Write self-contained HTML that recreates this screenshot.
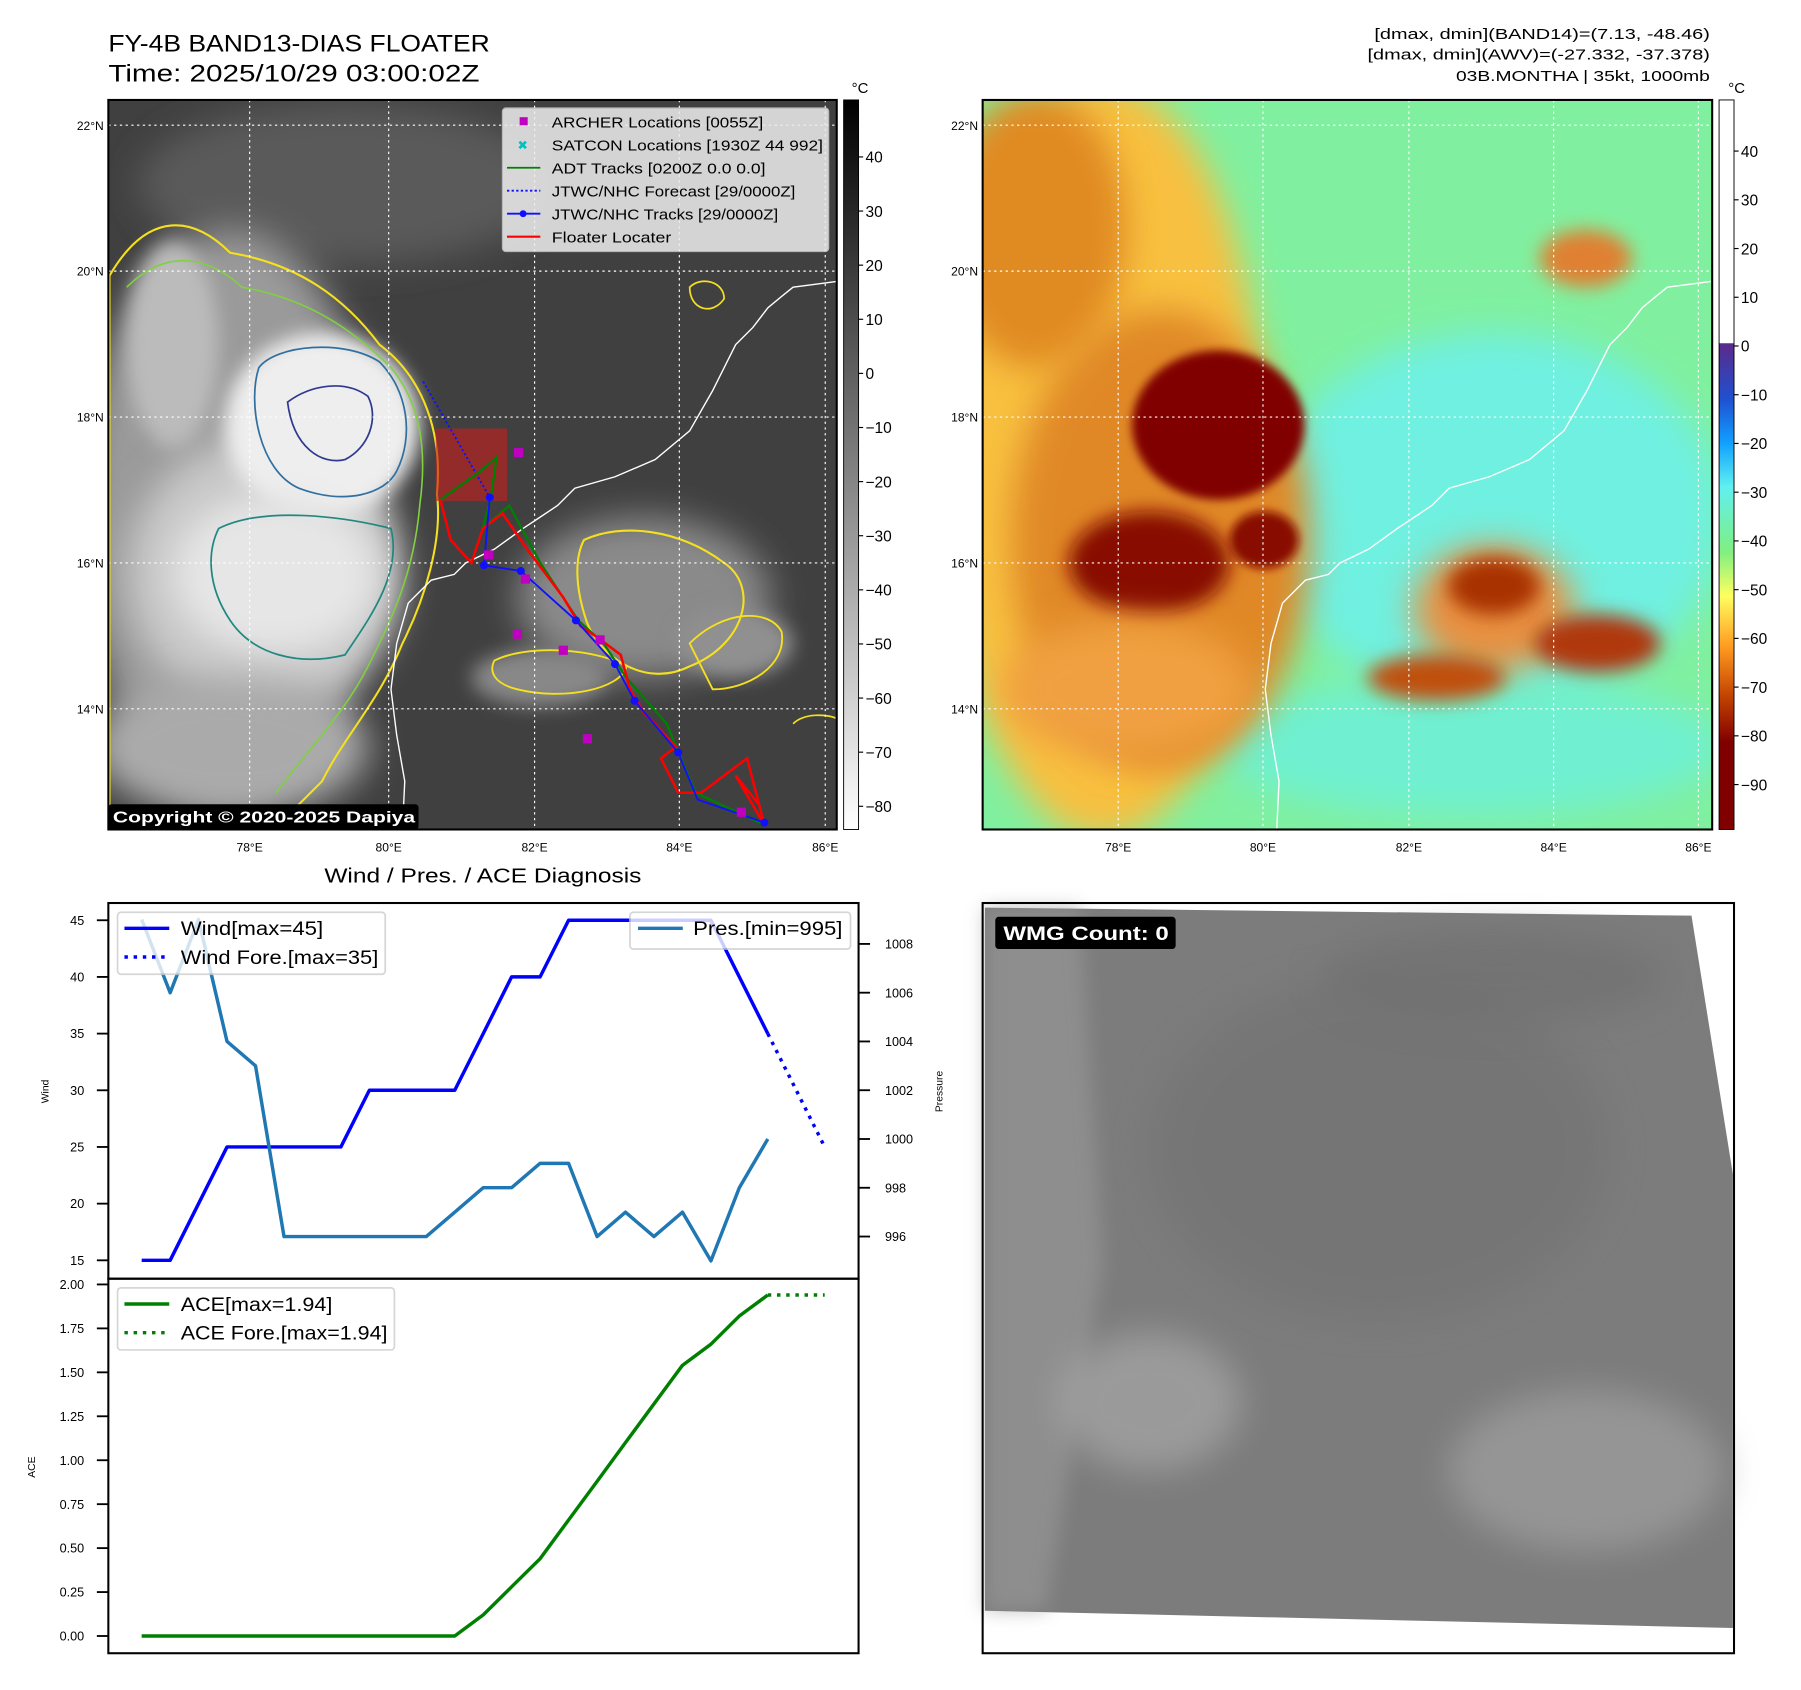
<!DOCTYPE html>
<html><head><meta charset="utf-8"><style>
html,body{margin:0;padding:0;background:#fff;}
svg{display:block;font-family:"Liberation Sans","DejaVu Sans",sans-serif;}
</style></head><body>
<svg id="root" width="1801" height="1690" viewBox="0 0 1567 1471" xmlns="http://www.w3.org/2000/svg">
<defs>
  <filter id="b8" x="-50%" y="-50%" width="200%" height="200%"><feGaussianBlur stdDeviation="8"/></filter>
  <filter id="b15" x="-50%" y="-50%" width="200%" height="200%"><feGaussianBlur stdDeviation="15"/></filter>
  <filter id="b4" x="-50%" y="-50%" width="200%" height="200%"><feGaussianBlur stdDeviation="4"/></filter>
  <clipPath id="c1"><rect x="94" y="87" width="634" height="635"/></clipPath>
  <clipPath id="c2"><rect x="855" y="87" width="635" height="635"/></clipPath>
  <linearGradient id="gcb1" x1="0" y1="0" x2="0" y2="1"><stop offset="0" stop-color="#000"/><stop offset="1" stop-color="#fff"/></linearGradient>
  <linearGradient id="gcb2" x1="0" y1="0" x2="0" y2="1">
    <stop offset="0" stop-color="#fff"/><stop offset="0.333" stop-color="#fff"/>
    <stop offset="0.334" stop-color="#5a2a8a"/><stop offset="0.41" stop-color="#2050d0"/>
    <stop offset="0.47" stop-color="#10a0ff"/><stop offset="0.53" stop-color="#60f0f0"/>
    <stop offset="0.62" stop-color="#80f080"/><stop offset="0.68" stop-color="#ffff60"/>
    <stop offset="0.75" stop-color="#ff9a20"/><stop offset="0.82" stop-color="#c04000"/>
    <stop offset="0.88" stop-color="#800000"/><stop offset="1" stop-color="#800000"/>
  </linearGradient>
</defs>

<!-- Titles -->
<text x="94" y="45" font-size="21" textLength="332" lengthAdjust="spacingAndGlyphs">FY-4B BAND13-DIAS FLOATER</text>
<text x="94" y="71" font-size="21" textLength="323" lengthAdjust="spacingAndGlyphs">Time: 2025/10/29 03:00:02Z</text>
<g font-size="13" text-anchor="end">
<text x="1488" y="34" textLength="292" lengthAdjust="spacingAndGlyphs">[dmax, dmin](BAND14)=(7.13, -48.46)</text>
<text x="1488" y="52" textLength="298" lengthAdjust="spacingAndGlyphs">[dmax, dmin](AWV)=(-27.332, -37.378)</text>
<text x="1488" y="70.5" textLength="221" lengthAdjust="spacingAndGlyphs">03B.MONTHA | 35kt, 1000mb</text>
</g>

<!-- MAP 1 -->
<g clip-path="url(#c1)">
  <rect x="94" y="87" width="634" height="635" fill="#404040"/>
  <ellipse cx="300" cy="160" rx="180" ry="70" fill="#5a5a5a" filter="url(#b15)"/>
  <ellipse cx="560" cy="520" rx="110" ry="70" fill="#8a8a8a" filter="url(#b15)"/>
  <ellipse cx="640" cy="560" rx="50" ry="30" fill="#909090" filter="url(#b8)"/>
  <ellipse cx="470" cy="590" rx="60" ry="25" fill="#888" filter="url(#b8)"/>
  <ellipse cx="200" cy="450" rx="130" ry="250" fill="#9a9a9a" filter="url(#b15)"/>
  <ellipse cx="230" cy="500" rx="120" ry="120" fill="#c8c8c8" filter="url(#b15)"/>
  <ellipse cx="280" cy="370" rx="85" ry="80" fill="#eee" filter="url(#b8)"/>
  <ellipse cx="240" cy="500" rx="90" ry="70" fill="#e6e6e6" filter="url(#b15)"/>
  <ellipse cx="200" cy="650" rx="120" ry="60" fill="#aaa" filter="url(#b15)"/>
  <ellipse cx="150" cy="300" rx="40" ry="90" fill="#bbb" filter="url(#b8)"/>
  <path d="M95,240 C130,180 170,190 200,220 C260,230 300,260 330,300 C370,330 385,380 380,430 C385,470 370,520 350,560 C330,610 300,640 280,680 L240,720 L95,720 Z" fill="none" stroke="#f5e020" stroke-width="1.8"/>
  <path d="M110,250 C150,210 190,230 210,250 C270,260 310,290 340,320 C365,350 372,390 365,440 C360,500 340,540 320,580 C300,620 270,650 240,690" fill="none" stroke="#80d040" stroke-width="1.4"/>
  <path d="M225,320 C240,300 300,295 330,315 C355,340 360,380 345,410 C335,430 300,440 260,425 C225,410 215,350 225,320 Z" fill="none" stroke="#3070a0" stroke-width="1.5"/>
  <path d="M190,460 C230,440 300,450 340,460 C350,500 320,540 300,570 C260,580 220,570 200,540 C180,510 180,480 190,460 Z" fill="none" stroke="#208880" stroke-width="1.5"/>
  <path d="M250,350 C270,335 300,330 320,345 C330,365 320,390 300,400 C280,405 255,390 250,350 Z" fill="none" stroke="#303890" stroke-width="1.5"/>
  <path d="M508,470 C540,455 590,460 630,490 C660,510 650,560 600,580 C560,600 520,570 510,540 C500,510 500,485 508,470 Z" fill="none" stroke="#f5e020" stroke-width="1.8"/>
  <path d="M600,560 C630,530 670,530 680,550 C685,580 650,600 620,600 Z" fill="none" stroke="#f5e020" stroke-width="1.6"/>
  <path d="M430,575 C460,560 520,565 545,580 C540,600 490,610 450,600 C430,595 425,585 430,575 Z" fill="none" stroke="#f5e020" stroke-width="1.6"/>
  <path d="M600,250 C610,240 630,245 630,260 C620,275 600,270 600,250 Z" fill="none" stroke="#f5e020" stroke-width="1.5"/>
  <path d="M690,630 C700,620 720,622 727,625" fill="none" stroke="#f5e020" stroke-width="1.5"/>
  <g stroke="#fff" stroke-width="1" stroke-dasharray="2,3">
    <line x1="217" y1="87" x2="217" y2="722"/><line x1="338" y1="87" x2="338" y2="722"/><line x1="465" y1="87" x2="465" y2="722"/><line x1="591" y1="87" x2="591" y2="722"/><line x1="718" y1="87" x2="718" y2="722"/>
    <line x1="94" y1="109" x2="728" y2="109"/><line x1="94" y1="236" x2="728" y2="236"/><line x1="94" y1="363" x2="728" y2="363"/><line x1="94" y1="490" x2="728" y2="490"/><line x1="94" y1="617" x2="728" y2="617"/>
  </g>
  <path id="coast1" d="M728,245 L705,248 L690,250 L680,258 L668,268 L655,285 L640,300 L620,340 L600,375 L570,400 L535,415 L500,425 L485,440 L470,450 L455,460 L430,478 L405,490 L395,500 L375,505 L355,525 L345,560 L340,600 L345,640 L352,680 L350,722" fill="none" stroke="#fff" stroke-width="1.2"/>
  <rect x="379" y="373" width="62" height="63" fill="#c02020" opacity="0.65"/>
  <polyline points="368,332 426,433" fill="none" stroke="#1010ff" stroke-width="1.6" stroke-dasharray="2,2"/>
  <polyline points="383,435 418,410 432,398 427,433 420,460 443,440 470,490 503,540 525,560 545,590 580,630 605,690 665,718" fill="none" stroke="#008000" stroke-width="2"/>
  <polyline points="383,435 392,470 410,490 420,460 437,447 460,480 490,520 505,545 520,555 540,570 548,600 560,620 588,650 575,660 590,690 610,690 650,660 665,718 640,675 660,700" fill="none" stroke="#ff0000" stroke-width="2.2"/>
  <polyline points="426,433 421,492 453,497 501,540 535,578 552,610 590,655 607,696 665,716" fill="none" stroke="#1010ff" stroke-width="1.6"/>
  <g fill="#1010ff"><circle cx="426" cy="433" r="3.5"/><circle cx="421" cy="492" r="3.5"/><circle cx="453" cy="497" r="3.5"/><circle cx="501" cy="540" r="3.5"/><circle cx="535" cy="578" r="3.5"/><circle cx="552" cy="610" r="3.5"/><circle cx="590" cy="655" r="3.5"/><circle cx="665" cy="716" r="3.5"/></g>
  <g fill="#c000c0"><rect x="447" y="390" width="8" height="8"/><rect x="421" y="479" width="8" height="8"/><rect x="453" y="500" width="8" height="8"/><rect x="446" y="548" width="8" height="8"/><rect x="486" y="562" width="8" height="8"/><rect x="518" y="553" width="8" height="8"/><rect x="507" y="639" width="8" height="8"/><rect x="641" y="703" width="8" height="8"/></g>
  <rect x="94" y="700" width="270" height="22" rx="3" fill="#000"/>
  <text x="98" y="716" font-size="14" font-weight="bold" fill="#fff" textLength="263" lengthAdjust="spacingAndGlyphs">Copyright © 2020-2025 Dapiya</text>
</g>
<rect x="94" y="87" width="634" height="635" fill="none" stroke="#000" stroke-width="1.8"/>
<g font-size="13">
  <rect x="437" y="94" width="284" height="125" rx="3" fill="#eee" opacity="0.85" stroke="#ccc"/>
  <rect x="452" y="102" width="7" height="7" fill="#c000c0"/><text x="480" y="111" textLength="184" lengthAdjust="spacingAndGlyphs">ARCHER Locations [0055Z]</text>
  <text x="450" y="130" fill="#00c0c0" font-size="11" font-weight="bold">✖</text><text x="480" y="131" textLength="236" lengthAdjust="spacingAndGlyphs">SATCON Locations [1930Z 44 992]</text>
  <line x1="441" y1="146" x2="470" y2="146" stroke="#008000" stroke-width="1.6"/><text x="480" y="151" textLength="186" lengthAdjust="spacingAndGlyphs">ADT Tracks [0200Z 0.0 0.0]</text>
  <line x1="441" y1="166" x2="470" y2="166" stroke="#1010ff" stroke-width="1.6" stroke-dasharray="2,2"/><text x="480" y="171" textLength="212" lengthAdjust="spacingAndGlyphs">JTWC/NHC Forecast [29/0000Z]</text>
  <line x1="441" y1="186" x2="470" y2="186" stroke="#1010ff" stroke-width="1.6"/><circle cx="455" cy="186" r="3" fill="#1010ff"/><text x="480" y="191" textLength="197" lengthAdjust="spacingAndGlyphs">JTWC/NHC Tracks [29/0000Z]</text>
  <line x1="441" y1="206" x2="470" y2="206" stroke="#ff0000" stroke-width="1.8"/><text x="480" y="211" textLength="104" lengthAdjust="spacingAndGlyphs">Floater Locater</text>
</g>
<g font-size="10.5" text-anchor="middle">
<text x="217" y="741">78°E</text><text x="338" y="741">80°E</text><text x="465" y="741">82°E</text><text x="591" y="741">84°E</text><text x="718" y="741">86°E</text></g>
<g font-size="10.5" text-anchor="end">
<text x="90" y="113">22°N</text><text x="90" y="240">20°N</text><text x="90" y="367">18°N</text><text x="90" y="494">16°N</text><text x="90" y="621">14°N</text></g>
<g>
<rect x="734" y="87" width="13" height="635" fill="url(#gcb1)" stroke="#000" stroke-width="0.8"/>
<text x="741" y="81" font-size="13">°C</text>
<g font-size="13.5" id="cb1lab"></g>
</g>

<!-- MAP 2 -->
<g clip-path="url(#c2)">
  <rect x="855" y="87" width="635" height="635" fill="#80f0a0"/>
  <ellipse cx="1300" cy="450" rx="200" ry="160" fill="#70f0e0" filter="url(#b15)"/>
  <ellipse cx="1280" cy="650" rx="220" ry="60" fill="#70f0d0" filter="url(#b15)"/>
  <ellipse cx="960" cy="400" rx="140" ry="330" fill="#f8c040" filter="url(#b15)"/>
  <ellipse cx="900" cy="200" rx="80" ry="120" fill="#e08a20" filter="url(#b15)"/>
  <ellipse cx="1010" cy="470" rx="130" ry="200" fill="#e08828" filter="url(#b15)"/>
  <ellipse cx="1060" cy="370" rx="75" ry="65" fill="#800000" filter="url(#b4)"/>
  <ellipse cx="1000" cy="490" rx="70" ry="45" fill="#880800" filter="url(#b8)"/>
  <ellipse cx="1100" cy="470" rx="30" ry="25" fill="#880800" filter="url(#b4)"/>
  <ellipse cx="980" cy="600" rx="110" ry="60" fill="#f0a040" filter="url(#b15)"/>
  <ellipse cx="1300" cy="530" rx="70" ry="55" fill="#e89040" filter="url(#b15)"/>
  <ellipse cx="1300" cy="510" rx="40" ry="25" fill="#a83000" filter="url(#b8)"/>
  <ellipse cx="1390" cy="560" rx="55" ry="25" fill="#b03808" filter="url(#b8)"/>
  <ellipse cx="1250" cy="590" rx="60" ry="20" fill="#c05010" filter="url(#b8)"/>
  <ellipse cx="1380" cy="225" rx="40" ry="25" fill="#e08030" filter="url(#b8)"/>
  <g stroke="#fff" stroke-width="1" stroke-dasharray="2,3">
    <line x1="973" y1="87" x2="973" y2="722"/><line x1="1099" y1="87" x2="1099" y2="722"/><line x1="1226" y1="87" x2="1226" y2="722"/><line x1="1352" y1="87" x2="1352" y2="722"/><line x1="1478" y1="87" x2="1478" y2="722"/>
    <line x1="855" y1="109" x2="1490" y2="109"/><line x1="855" y1="236" x2="1490" y2="236"/><line x1="855" y1="363" x2="1490" y2="363"/><line x1="855" y1="490" x2="1490" y2="490"/><line x1="855" y1="617" x2="1490" y2="617"/>
  </g>
  <use href="#coast1" transform="translate(761,0)"/>
</g>
<rect x="855" y="87" width="635" height="635" fill="none" stroke="#000" stroke-width="1.8"/>
<g font-size="10.5" text-anchor="middle">
<text x="973" y="741">78°E</text><text x="1099" y="741">80°E</text><text x="1226" y="741">82°E</text><text x="1352" y="741">84°E</text><text x="1478" y="741">86°E</text></g>
<g font-size="10.5" text-anchor="end">
<text x="851" y="113">22°N</text><text x="851" y="240">20°N</text><text x="851" y="367">18°N</text><text x="851" y="494">16°N</text><text x="851" y="621">14°N</text></g>
<g>
<rect x="1496" y="87" width="13" height="635" fill="url(#gcb2)" stroke="#000" stroke-width="0.8"/>
<text x="1504" y="81" font-size="13">°C</text>
<g font-size="13.5" id="cb2lab"></g>
</g>

<!-- Chart -->
<text x="420" y="768" font-size="18" text-anchor="middle" textLength="276" lengthAdjust="spacingAndGlyphs">Wind / Pres. / ACE Diagnosis</text>
<g id="chart"></g>
<rect x="94" y="786" width="653" height="327" fill="none" stroke="#000" stroke-width="1.8"/>
<rect x="94" y="1113" width="653" height="326" fill="none" stroke="#000" stroke-width="1.8"/>
<text transform="translate(42,950) rotate(-90)" font-size="9" text-anchor="middle">Wind</text>
<text transform="translate(820,950) rotate(-90)" font-size="9" text-anchor="middle">Pressure</text>
<text transform="translate(30,1277) rotate(-90)" font-size="9" text-anchor="middle">ACE</text>
<g font-size="17">
  <rect x="102" y="794" width="233" height="54" rx="3" fill="#fff" opacity="0.8" stroke="#ccc" stroke-width="1.5"/>
  <line x1="108" y1="808" x2="147" y2="808" stroke="#0000ff" stroke-width="3"/><text x="157" y="814" textLength="124" lengthAdjust="spacingAndGlyphs">Wind[max=45]</text>
  <line x1="108" y1="833" x2="147" y2="833" stroke="#0000ff" stroke-width="3" stroke-dasharray="3,5"/><text x="157" y="839" textLength="172" lengthAdjust="spacingAndGlyphs">Wind Fore.[max=35]</text>
</g>
<g font-size="17">
  <rect x="548" y="794" width="192" height="32" rx="3" fill="#fff" opacity="0.8" stroke="#ccc" stroke-width="1.5"/>
  <line x1="555" y1="808" x2="594" y2="808" stroke="#1f77b4" stroke-width="3"/><text x="603" y="814" textLength="130" lengthAdjust="spacingAndGlyphs">Pres.[min=995]</text>
</g>
<g font-size="17">
  <rect x="102" y="1121" width="241" height="54" rx="3" fill="#fff" opacity="0.8" stroke="#ccc" stroke-width="1.5"/>
  <line x1="108" y1="1135" x2="147" y2="1135" stroke="#008000" stroke-width="3"/><text x="157" y="1141" textLength="132" lengthAdjust="spacingAndGlyphs">ACE[max=1.94]</text>
  <line x1="108" y1="1160" x2="147" y2="1160" stroke="#008000" stroke-width="3" stroke-dasharray="3,5"/><text x="157" y="1166" textLength="180" lengthAdjust="spacingAndGlyphs">ACE Fore.[max=1.94]</text>
</g>

<!-- Bottom right -->
<g>
  <polygon points="857,790 1472,797 1508,1022 1508,1417 857,1402" fill="#7c7c7c"/>
  <polygon points="857,790 940,790 960,1100 910,1402 857,1402" fill="#9a9a9a" opacity="0.6" filter="url(#b8)"/>
  <ellipse cx="1000" cy="1220" rx="80" ry="60" fill="#a8a8a8" opacity="0.7" filter="url(#b15)"/>
  <ellipse cx="1380" cy="1280" rx="120" ry="70" fill="#a0a0a0" opacity="0.7" filter="url(#b15)"/>
  <ellipse cx="1200" cy="1000" rx="200" ry="150" fill="#727272" opacity="0.6" filter="url(#b15)"/>
  <ellipse cx="1300" cy="850" rx="150" ry="40" fill="#6e6e6e" opacity="0.6" filter="url(#b15)"/>
  <rect x="855" y="786" width="654" height="653" fill="none" stroke="#000" stroke-width="1.8"/>
  <rect x="866" y="798" width="157" height="28" rx="3" fill="#000"/>
  <text x="873" y="818" font-size="17" font-weight="bold" fill="#fff" textLength="144" lengthAdjust="spacingAndGlyphs">WMG Count: 0</text>
</g>

<script>
const cb1Ticks=[40,30,20,10,0,-10,-20,-30,-40,-50,-60,-70,-80];
const cb2Ticks=[40,30,20,10,0,-10,-20,-30,-40,-50,-60,-70,-80,-90];
const NS='http://www.w3.org/2000/svg';
function mk(tag,attrs,parent){const e=document.createElementNS(NS,tag);for(const k in attrs)e.setAttribute(k,attrs[k]);parent.appendChild(e);return e;}
const g1=document.getElementById('cb1lab');
cb1Ticks.forEach(v=>{const y=136.6+(40-v)*(701.8-136.6)/120;mk('line',{x1:747,y1:y,x2:751,y2:y,stroke:'#000'},g1);const t=mk('text',{x:753,y:y+5},g1);t.textContent=String(v).replace('-','\u2212');});
const g2=document.getElementById('cb2lab');
cb2Ticks.forEach(v=>{const y=131.5+(40-v)*(682.9-131.5)/130;mk('line',{x1:1509,y1:y,x2:1513,y2:y,stroke:'#000'},g2);const t=mk('text',{x:1515,y:y+5},g2);t.textContent=String(v).replace('-','\u2212');});

// Chart data
const wind=[15,15,20,25,25,25,25,25,30,30,30,30,35,40,40,45,45,45,45,45,45,40,35];
const windFore=[35,30,25];
const pres=[1009,1006,1009,1004,1003,996,996,996,996,996,996,997,998,998,999,999,996,997,996,997,995,998,1000];
const ace=[0,0,0,0,0,0,0,0,0,0,0,0,0.12,0.28,0.44,0.66,0.88,1.10,1.32,1.54,1.66,1.82,1.94];
const aceFore=[1.94,1.94,1.94];
const windTicks=[15,20,25,30,35,40,45];
const presTicks=[996,998,1000,1002,1004,1006,1008];
const aceTicks=[0,0.25,0.5,0.75,1,1.25,1.5,1.75,2];

const xS=i=>123+i*(668-123)/22;
const yW=v=>1097-(v-15)*296/30;
const yP=p=>1076.3-(p-996)*(1076.3-821.6)/12;
const yA=a=>1424-a*153;
const C=document.getElementById('chart');
function line(vals,off,yf,color,dash,name){
  const pts=vals.map((v,i)=>xS(i+off).toFixed(1)+','+yf(v).toFixed(1)).join(' ');
  const a={points:pts,fill:'none',stroke:color,'stroke-width':3,'stroke-linejoin':'round'};
  if(dash)a['stroke-dasharray']=dash;
  const e=mk('polyline',a,C);
  
  
}
line(wind,0,yW,'#0000ff',null,'wind-line');
line(windFore,22,yW,'#0000ff','3,5','wind-forecast-line');
line(pres,0,yP,'#1f77b4',null,'pressure-line');
line(ace,0,yA,'#008000',null,'ace-line');
line(aceFore,22,yA,'#008000','3,5','ace-forecast-line');
windTicks.forEach(v=>{const y=yW(v);mk('line',{x1:84,y1:y,x2:94,y2:y,stroke:'#000','stroke-width':1.6},C);const t=mk('text',{x:73,y:y+4,'font-size':11,'text-anchor':'end'},C);t.textContent=v;});
presTicks.forEach(v=>{const y=yP(v);mk('line',{x1:747,y1:y,x2:757,y2:y,stroke:'#000','stroke-width':1.6},C);const t=mk('text',{x:770,y:y+4,'font-size':11},C);t.textContent=v;});
aceTicks.forEach(v=>{const y=yA(v);mk('line',{x1:84,y1:y,x2:94,y2:y,stroke:'#000','stroke-width':1.6},C);const t=mk('text',{x:73,y:y+4,'font-size':11,'text-anchor':'end'},C);t.textContent=v.toFixed(2);});
</script>
</svg>
</body></html>
